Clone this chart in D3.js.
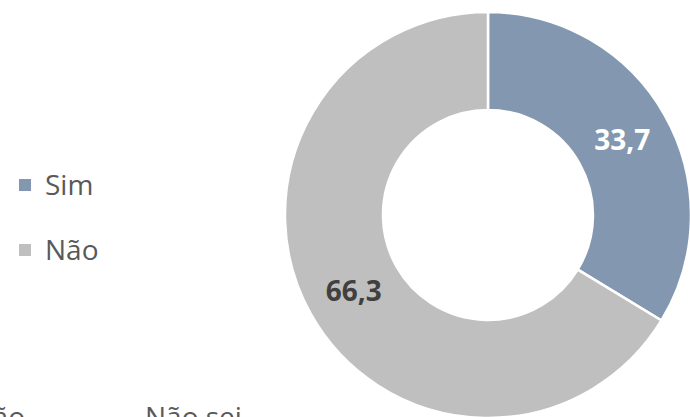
<!DOCTYPE html>
<html>
<head>
<meta charset="utf-8">
<script src="https://cdn.jsdelivr.net/npm/d3@7"></script>
<style>
  body { margin: 0; background: #fff; }
  svg { display: block; font-family: "Open Sans", sans-serif; }
</style>
</head>
<body>
<svg class="donutChart" width="690" height="417"></svg>
<script>
var categories = ["Sim", "Não"];
var values = [33.7, 66.3];
var valueLabels = ["33,7", "66,3"];
var colors = ["#8497b0", "#bfbfbf"];
var labelColors = ["#ffffff", "#404040"];
// second legend, cut off at the bottom of the picture
var lowerLegend = ["Não", "Não sei"];

var width = 690, height = 417;
var center = { x: 488, y: 215 };
var outerR = 203, innerR = 105;

var svg = d3.select(".donutChart");

var pie = d3.pie()
    .sort(null)
    .value(function (d) { return d; });
var arc = d3.arc()
    .innerRadius(innerR)
    .outerRadius(outerR);

var arcs = pie(values);

var g = svg.append("g")
    .attr("transform", "translate(" + center.x + "," + center.y + ")");

g.selectAll(".slice")
    .data(arcs)
    .enter().append("path")
    .attr("class", "slice")
    .attr("d", arc)
    .attr("fill", function (d, i) { return colors[i]; })
    .attr("stroke", "#fff")
    .attr("stroke-width", 2.5);

g.selectAll(".valueLabel")
    .data(arcs)
    .enter().append("text")
    .attr("class", "valueLabel")
    .attr("transform", function (d) { return "translate(" + arc.centroid(d) + ")"; })
    .attr("text-anchor", "middle")
    .attr("dy", "0.36em")
    .attr("font-size", 28)
    .attr("font-weight", "bold")
    .attr("fill", function (d, i) { return labelColors[i]; })
    .text(function (d, i) { return valueLabels[i]; });

// legend
var legend = svg.append("g")
    .attr("transform", "translate(19,0)");
var rowY = d3.scalePoint()
    .domain(categories)
    .range([185, 250]);

var item = legend.selectAll(".item")
    .data(categories)
    .enter().append("g")
    .attr("class", "item")
    .attr("transform", function (d) { return "translate(0," + rowY(d) + ")"; });
item.append("rect")
    .attr("x", 0)
    .attr("y", -6)
    .attr("width", 12)
    .attr("height", 12)
    .attr("fill", function (d, i) { return colors[i]; });
item.append("text")
    .attr("x", 26)
    .attr("dy", "0.36em")
    .attr("font-size", 28)
    .attr("fill", "#595959")
    .text(function (d) { return d; });

// lower legend, only its top shows
svg.append("text")
    .attr("x", 25)
    .attr("y", 427)
    .attr("text-anchor", "end")
    .attr("font-size", 28)
    .attr("fill", "#595959")
    .text(lowerLegend[0]);
svg.append("text")
    .attr("x", 145)
    .attr("y", 427)
    .attr("font-size", 28)
    .attr("fill", "#595959")
    .text(lowerLegend[1]);
</script>
</body>
</html>
